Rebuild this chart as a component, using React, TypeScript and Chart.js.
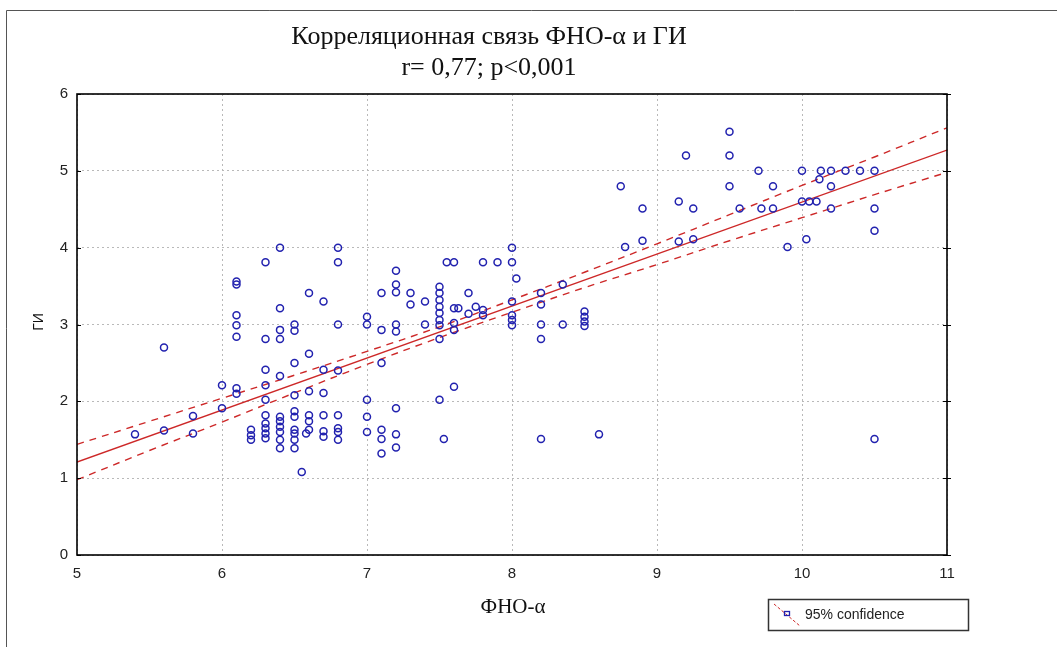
import React, { useEffect, useRef } from "react";
import { Chart, registerables } from "chart.js";

Chart.register(...registerables);

// ---- data ----
const tnfValues = [
  5.4, 5.6, 5.6, 5.8, 5.8, 6.0, 6.0, 6.1, 6.1, 6.1, 6.1, 6.1, 6.1, 6.1,
  6.2, 6.2, 6.2,
  6.3, 6.3, 6.3, 6.3, 6.3, 6.3, 6.3, 6.3, 6.3, 6.3,
  6.4, 6.4, 6.4, 6.4, 6.4, 6.4, 6.4, 6.4, 6.4, 6.4, 6.4,
  6.5, 6.5, 6.5, 6.5, 6.5, 6.5, 6.5, 6.5, 6.5, 6.5, 6.55,
  6.6, 6.6, 6.6, 6.6, 6.6, 6.6, 6.58,
  6.7, 6.7, 6.7, 6.7, 6.7, 6.7,
  6.8, 6.8, 6.8, 6.8, 6.8, 6.8, 6.8, 6.8,
  7.0, 7.0, 7.0, 7.0, 7.0,
  7.1, 7.1, 7.1, 7.1, 7.1, 7.1,
  7.2, 7.2, 7.2, 7.2, 7.2, 7.2, 7.2, 7.2,
  7.3, 7.3, 7.4, 7.4,
  7.5, 7.5, 7.5, 7.5, 7.5, 7.5, 7.5, 7.5, 7.5, 7.53,
  7.55, 7.6, 7.6, 7.63, 7.6, 7.6, 7.6,
  7.7, 7.7, 7.75, 7.8, 7.8, 7.8, 7.9,
  8.0, 8.0, 8.03, 8.0, 8.0, 8.0, 8.0,
  8.2, 8.2, 8.2, 8.2, 8.2, 8.35, 8.35,
  8.5, 8.5, 8.5, 8.5, 8.6,
  8.75, 8.78, 8.9, 8.9, 9.15, 9.15, 9.2, 9.25, 9.25,
  9.5, 9.5, 9.5, 9.57, 9.7, 9.72, 9.8, 9.8, 9.9,
  10.0, 10.0, 10.05, 10.03, 10.1, 10.12, 10.13, 10.2, 10.2, 10.2,
  10.3, 10.4, 10.5, 10.5, 10.5, 10.5,
];
const giValues = [
  1.57, 2.7, 1.62, 1.81, 1.58, 2.21, 1.91, 3.56, 3.52, 3.12, 2.99, 2.84, 2.17, 2.1,
  1.63, 1.56, 1.5,
  3.81, 2.81, 2.41, 2.21, 2.02, 1.82, 1.71, 1.65, 1.58, 1.52,
  4.0, 3.21, 2.93, 2.81, 2.33, 1.8, 1.74, 1.67, 1.6, 1.5, 1.39,
  3.0, 2.92, 2.5, 2.08, 1.87, 1.8, 1.63, 1.58, 1.5, 1.39, 1.08,
  3.41, 2.62, 2.13, 1.82, 1.74, 1.63, 1.58,
  3.3, 2.41, 2.11, 1.82, 1.61, 1.54,
  4.0, 3.81, 3.0, 2.4, 1.82, 1.65, 1.6, 1.5,
  3.1, 3.0, 2.02, 1.8, 1.6,
  3.41, 2.93, 2.5, 1.63, 1.51, 1.32,
  3.7, 3.52, 3.42, 3.0, 2.91, 1.91, 1.57, 1.4,
  3.41, 3.26, 3.3, 3.0,
  3.49, 3.41, 3.32, 3.23, 3.15, 3.06, 2.99, 2.81, 2.02, 1.51,
  3.81, 3.81, 3.21, 3.21, 3.02, 2.93, 2.19,
  3.41, 3.14, 3.23, 3.19, 3.12, 3.81, 3.81,
  4.0, 3.81, 3.6, 3.3, 3.12, 3.06, 2.99,
  3.41, 3.26, 3.0, 2.81, 1.51, 3.52, 3.0,
  3.17, 3.1, 3.04, 2.98, 1.57,
  4.8, 4.01, 4.51, 4.09, 4.6, 4.08, 5.2, 4.51, 4.11,
  5.51, 5.2, 4.8, 4.51, 5.0, 4.51, 4.8, 4.51, 4.01,
  5.0, 4.6, 4.6, 4.11, 4.6, 4.89, 5.0, 5.0, 4.8, 4.51,
  5.0, 5.0, 5.0, 4.51, 4.22, 1.51,
];

const fitX = [5, 11];
const fitY = [1.21, 5.27];

const bandX = [5, 5.5, 6, 6.5, 7, 7.5, 8, 8.5, 9, 9.5, 10, 10.5, 11];
const bandUpper = [1.44, 1.74, 2.04, 2.34, 2.65, 2.97, 3.32, 3.68, 4.05, 4.43, 4.81, 5.18, 5.56];
const bandLower = [0.98, 1.36, 1.73, 2.11, 2.48, 2.83, 3.16, 3.48, 3.78, 4.09, 4.39, 4.69, 4.98];

const xTicks = [5, 6, 7, 8, 9, 10, 11];
const yTicks = [0, 1, 2, 3, 4, 5, 6];

const titleLines = ["Корреляционная связь ФНО-α и ГИ", "r= 0,77; p<0,001"];
const xAxisTitle = "ФНО-α";
const yAxisTitle = "ГИ";
const legendLabel = "95% confidence";

const BLUE = "rgb(34,34,175)";
const RED = "rgb(205,40,40)";
const GRID = "rgb(185,185,185)";

const decorPlugin = {
  id: "decor",
  afterDraw(chart: any) {
    const ctx = chart.ctx as CanvasRenderingContext2D;
    const ca = chart.chartArea;
    const ys = chart.scales.y;
    ctx.save();

    // outer frame (top + left)
    ctx.strokeStyle = "#555";
    ctx.lineWidth = 1;
    ctx.beginPath();
    ctx.moveTo(6.5, 647);
    ctx.lineTo(6.5, 10.5);
    ctx.lineTo(1057, 10.5);
    ctx.stroke();

    // plot frame
    ctx.strokeStyle = "#000";
    ctx.lineWidth = 1.6;
    ctx.strokeRect(ca.left, ca.top, ca.right - ca.left, ca.bottom - ca.top);

    // small tick marks on the vertical borders
    ctx.lineWidth = 1;
    yTicks.forEach((v) => {
      const py = Math.round(ys.getPixelForValue(v)) + 0.5;
      ctx.beginPath();
      ctx.moveTo(ca.left, py);
      ctx.lineTo(ca.left + 4, py);
      ctx.moveTo(ca.right - 4, py);
      ctx.lineTo(ca.right + 4, py);
      ctx.stroke();
    });

    // title
    ctx.fillStyle = "#111";
    ctx.textAlign = "center";
    ctx.textBaseline = "middle";
    ctx.font = '26px "Liberation Serif"';
    ctx.fillText(titleLines[0], 489, 37);
    ctx.fillText(titleLines[1], 489, 68);

    // x axis title
    ctx.font = '21px "Liberation Serif"';
    ctx.fillText(xAxisTitle, 513, 607);

    // y axis title
    ctx.save();
    ctx.translate(39, 322);
    ctx.rotate(-Math.PI / 2);
    ctx.font = '14px "Liberation Sans"';
    ctx.fillText(yAxisTitle, 0, 0);
    ctx.restore();

    // legend
    ctx.strokeStyle = "#333";
    ctx.lineWidth = 1.5;
    ctx.strokeRect(768.5, 599.5, 200, 31);
    ctx.strokeStyle = RED;
    ctx.lineWidth = 1;
    ctx.setLineDash([3, 2]);
    ctx.beginPath();
    ctx.moveTo(774, 604);
    ctx.lineTo(800, 626);
    ctx.stroke();
    ctx.setLineDash([]);
    ctx.strokeStyle = BLUE;
    ctx.lineWidth = 1.3;
    ctx.strokeRect(784.5, 611.5, 5, 4);
    ctx.fillStyle = "#222";
    ctx.textAlign = "left";
    ctx.font = '14px "Liberation Sans"';
    ctx.fillText(legendLabel, 805, 615);

    ctx.restore();
  },
};

export default function App() {
  const canvasRef = useRef<HTMLCanvasElement | null>(null);

  useEffect(() => {
    if (!canvasRef.current) return;
    const points = tnfValues.map((x, i) => ({ x, y: giValues[i] }));
    const fit = fitX.map((x, i) => ({ x, y: fitY[i] }));
    const upper = bandX.map((x, i) => ({ x, y: bandUpper[i] }));
    const lower = bandX.map((x, i) => ({ x, y: bandLower[i] }));

    const chart = new Chart(canvasRef.current, {
      type: "scatter",
      data: {
        datasets: [
          {
            label: "points",
            data: points,
            pointStyle: "circle",
            pointRadius: 3.5,
            pointBorderWidth: 1.5,
            pointBorderColor: BLUE,
            pointBackgroundColor: "rgba(0,0,0,0)",
            borderColor: BLUE,
            backgroundColor: "rgba(0,0,0,0)",
          } as any,
          {
            label: "fit",
            data: fit,
            showLine: true,
            borderColor: RED,
            borderWidth: 1.3,
            pointRadius: 0,
          } as any,
          {
            label: "upper",
            data: upper,
            showLine: true,
            borderColor: RED,
            borderWidth: 1.4,
            borderDash: [7, 6],
            pointRadius: 0,
            tension: 0.4,
          } as any,
          {
            label: "lower",
            data: lower,
            showLine: true,
            borderColor: RED,
            borderWidth: 1.4,
            borderDash: [7, 6],
            pointRadius: 0,
            tension: 0.4,
          } as any,
        ],
      },
      options: {
        responsive: false,
        animation: false,
        devicePixelRatio: 1,
        layout: { padding: { top: 94, right: 110, bottom: 0, left: 0 } },
        plugins: {
          legend: { display: false },
          title: { display: false },
          tooltip: { enabled: false },
        },
        scales: {
          x: {
            type: "linear",
            min: 5,
            max: 11,
            afterFit: (s: any) => {
              s.height = 92;
            },
            afterBuildTicks: (s: any) => {
              s.ticks = xTicks.map((v) => ({ value: v }));
            },
            ticks: {
              padding: 10,
              color: "#222",
              font: { family: '"Liberation Sans"', size: 15 },
            },
            grid: { color: GRID, lineWidth: 1, drawTicks: false },
            border: { display: false, dash: [2, 3] },
          },
          y: {
            type: "linear",
            min: 0,
            max: 6,
            afterFit: (s: any) => {
              s.width = 77;
            },
            afterBuildTicks: (s: any) => {
              s.ticks = yTicks.map((v) => ({ value: v }));
            },
            ticks: {
              padding: 9,
              color: "#222",
              font: { family: '"Liberation Sans"', size: 15 },
            },
            grid: { color: GRID, lineWidth: 1, drawTicks: false },
            border: { display: false, dash: [2, 3] },
          },
        },
      } as any,
      plugins: [decorPlugin],
    });

    return () => {
      chart.destroy();
    };
  }, []);

  return (
    <div style={{ position: "fixed", left: 0, top: 0, width: 1057, height: 647, background: "#fff" }}>
      <canvas ref={canvasRef} width={1057} height={647} style={{ display: "block" }} />
    </div>
  );
}
